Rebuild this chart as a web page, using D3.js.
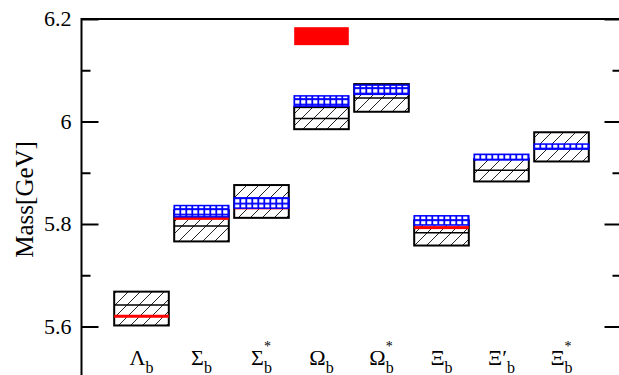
<!DOCTYPE html>
<html>
<head>
<meta charset="utf-8">
<script src="https://cdn.jsdelivr.net/npm/d3@7"></script>
<style>
  body { margin: 0; background: #fff; }
  svg { display: block; }
  text { font-family: "Liberation Serif", "Times New Roman", serif; fill: #000; }
</style>
</head>
<body>
<svg width="619" height="375"></svg>
<script>
var svg = d3.select("svg");

// baryon labels: main letter, mark after it, superscript star
var letters = ["\u039B", "\u03A3", "\u03A3", "\u03A9", "\u03A9", "\u039E", "\u039E", "\u039E"];
var primes  = ["", "", "", "", "", "", "\u2032", ""];
var stars   = ["", "", "*", "", "*", "", "", "*"];

// hatched boxes (low / central / high), GeV
var hatchLow  = [5.602, 5.766, 5.812, 5.985, 6.019, 5.758, 5.883, 5.922];
var hatchMid  = [5.642, 5.796, 5.844, 6.006, 6.046, 5.783, 5.905, 5.950];
var hatchHigh = [5.668, 5.827, 5.876, 6.028, 6.073, 5.807, 5.927, 5.979];

// blue grid bands (low / high), null = none
var blueLow  = [null, 5.814, 5.831, 6.030, 6.053, 5.798, 5.925, 5.946];
var blueHigh = [null, 5.836, 5.851, 6.050, 6.071, 5.816, 5.936, 5.956];

// experiment (red): a line when low == high, else a band
var expLow  = [5.620, 5.811, 5.8315, 6.149, null, 5.793, null, null];
var expHigh = [5.620, 5.811, 5.8315, 6.184, null, 5.793, null, null];

var majorTicks = [5.6, 5.8, 6.0, 6.2];
var minorTicks = [5.5, 5.7, 5.9, 6.1];

var x = d3.scaleLinear().domain([0, 9]).range([81.5, 621.5]);
var y = d3.scaleLinear().domain([5.5, 6.2]).range([377.75, 19]);
var halfW = 0.455;

// patterns
var defs = svg.append("defs");
var hatch = defs.append("pattern")
    .attr("id", "hatch")
    .attr("patternUnits", "userSpaceOnUse")
    .attr("width", 12).attr("height", 12);
hatch.append("path")
    .attr("d", "M0,12 L12,0 M-2,2 L2,-2 M10,14 L14,10")
    .attr("stroke", "#222")
    .attr("stroke-width", 1);

var grid = defs.append("pattern")
    .attr("id", "grid")
    .attr("patternUnits", "userSpaceOnUse")
    .attr("width", 6).attr("height", 5.5);
grid.append("rect").attr("width", 6).attr("height", 5.5).attr("fill", "#0000ff");
grid.append("rect").attr("x", 1.2).attr("y", 1.1).attr("width", 4.2).attr("height", 3.6)
    .attr("fill", "#fff");

var idx = d3.range(letters.length);

// hatched boxes
var boxes = svg.append("g").attr("class", "hatched");
boxes.selectAll("rect")
    .data(idx)
    .enter().append("rect")
      .attr("x", function(i) { return x(i + 1 - halfW); })
      .attr("width", function(i) { return x(i + 1 + halfW) - x(i + 1 - halfW); })
      .attr("y", function(i) { return y(hatchHigh[i]); })
      .attr("height", function(i) { return y(hatchLow[i]) - y(hatchHigh[i]); })
      .attr("fill", "url(#hatch)")
      .attr("stroke", "#000")
      .attr("stroke-width", 2);
boxes.selectAll("line")
    .data(idx)
    .enter().append("line")
      .attr("x1", function(i) { return x(i + 1 - halfW); })
      .attr("x2", function(i) { return x(i + 1 + halfW); })
      .attr("y1", function(i) { return y(hatchMid[i]); })
      .attr("y2", function(i) { return y(hatchMid[i]); })
      .attr("stroke", "#000")
      .attr("stroke-width", 1.5);

// experiment
var expIdx = idx.filter(function(i) { return expLow[i] != null; });
svg.append("g").attr("class", "exp")
  .selectAll("rect")
  .data(expIdx)
  .enter().append("rect")
    .attr("x", function(i) { return x(i + 1 - halfW); })
    .attr("width", function(i) { return x(i + 1 + halfW) - x(i + 1 - halfW); })
    .attr("y", function(i) {
      var h = y(expLow[i]) - y(expHigh[i]);
      return h < 3 ? y(expHigh[i]) - 1.5 : y(expHigh[i]);
    })
    .attr("height", function(i) { return Math.max(3, y(expLow[i]) - y(expHigh[i])); })
    .attr("fill", "#ff0000");

// blue grid bands
var blueIdx = idx.filter(function(i) { return blueLow[i] != null; });
svg.append("g").attr("class", "blue")
  .selectAll("rect")
  .data(blueIdx)
  .enter().append("rect")
    .attr("x", function(i) { return x(i + 1 - halfW); })
    .attr("width", function(i) { return x(i + 1 + halfW) - x(i + 1 - halfW); })
    .attr("y", function(i) { return y(blueHigh[i]); })
    .attr("height", function(i) { return y(blueLow[i]) - y(blueHigh[i]); })
    .attr("fill", "url(#grid)")
    .attr("stroke", "#0000ff")
    .attr("stroke-width", 1.5);

// frame
svg.append("rect")
    .attr("x", x(0)).attr("y", y(6.2))
    .attr("width", x(9) - x(0)).attr("height", y(5.5) - y(6.2))
    .attr("fill", "none")
    .attr("stroke", "#000")
    .attr("stroke-width", 2);

// ticks, both sides, pointing in
var left = svg.append("g").attr("transform", "translate(" + x(0) + ",0)");
left.call(d3.axisRight(y).tickValues(majorTicks).tickSize(17).tickFormat(""));
left.select(".domain").remove();
var leftMinor = svg.append("g").attr("transform", "translate(" + x(0) + ",0)");
leftMinor.call(d3.axisRight(y).tickValues(minorTicks).tickSize(9).tickFormat(""));
leftMinor.select(".domain").remove();

var right = svg.append("g").attr("transform", "translate(" + x(9) + ",0)");
right.call(d3.axisLeft(y).tickValues(majorTicks).tickSize(17).tickFormat(""));
right.select(".domain").remove();
var rightMinor = svg.append("g").attr("transform", "translate(" + x(9) + ",0)");
rightMinor.call(d3.axisLeft(y).tickValues(minorTicks).tickSize(9).tickFormat(""));
rightMinor.select(".domain").remove();

svg.selectAll(".tick line").attr("stroke", "#000").attr("stroke-width", 2);

// tick labels
svg.append("g").selectAll("text")
    .data(majorTicks)
    .enter().append("text")
      .attr("x", x(0) - 10)
      .attr("y", function(d) { return y(d); })
      .attr("dy", "0.34em")
      .attr("text-anchor", "end")
      .style("font-size", "22px")
      .text(function(d) { return d === 6 ? "6" : d3.format(".1f")(d); });

// axis title
svg.append("text")
    .attr("transform", "translate(33," + y(5.848) + ") rotate(-90)")
    .attr("text-anchor", "middle")
    .style("font-size", "25px")
    .text("Mass[GeV]");

// baryon names
var names = svg.append("g").selectAll("text")
    .data(idx)
    .enter().append("text")
      .attr("x", function(i) { return x(i + 1); })
      .attr("y", y(5.525))
      .attr("text-anchor", "middle")
      .style("font-size", "22px");
names.append("tspan").text(function(i) { return letters[i] + primes[i]; });
names.append("tspan")
    .attr("dy", 8)
    .style("font-size", "16px")
    .text("b");
names.append("tspan")
    .attr("dx", -8)
    .attr("dy", -22)
    .style("font-size", "14px")
    .text(function(i) { return stars[i]; });
</script>
</body>
</html>
